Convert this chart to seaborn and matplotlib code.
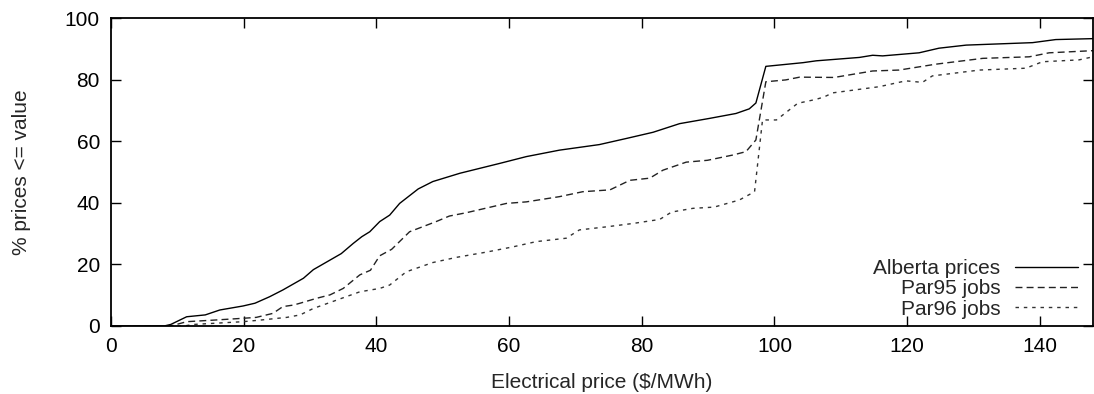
import matplotlib
matplotlib.use("Agg")
import matplotlib.pyplot as plt
import seaborn as sns
import pandas as pd

alberta_x = [0, 8, 9, 11.4, 14.2, 16.4, 19.9, 21.7, 23.9, 25.9, 29, 30.5, 34.7, 36.5, 37.8, 39, 40.5, 42, 43.5,
             46.3, 48.5, 52.6, 58.6, 62.6, 67.6, 73.6, 77.7, 81.7, 85.7, 90.2, 94.2, 96.2, 97.2, 98.7, 104.3,
             106.3, 112.8, 114.8, 116.3, 121.8, 124.8, 128.9, 138.9, 142.4, 148]
alberta_y = [0, 0, 0.5, 3.0, 3.6, 5.2, 6.5, 7.4, 9.5, 11.7, 15.5, 18.3, 23.5, 26.8, 29, 30.6, 33.9, 36, 39.8,
             44.5, 46.9, 49.6, 52.8, 55, 57.1, 58.9, 60.9, 62.9, 65.7, 67.4, 69, 70.5, 72.4, 84.3, 85.5,
             86.1, 87.2, 87.9, 87.7, 88.7, 90.2, 91.2, 92, 93, 93.3]

par95_x = [0, 9, 11.4, 15.4, 19.9, 21.9, 24.4, 25.9, 27.5, 28.5, 31, 33, 35, 37.5, 39.1, 40.5, 42.3, 45, 49, 51,
           53.6, 59.6, 62.6, 67.6, 71.1, 75.2, 78.2, 81.2, 83.2, 86.7, 89.9, 93.7, 95.7, 97.2, 98.7, 101.7,
           103.8, 109, 114.8, 118.8, 124.3, 131.4, 138.4, 141.4, 148]
par95_y = [0, 0, 1.4, 1.9, 2.5, 2.8, 4.1, 6.3, 6.8, 7.4, 9, 10.1, 12.2, 16.6, 18.1, 22.8, 24.9, 30.6, 33.9, 35.7,
           36.8, 39.8, 40.3, 42, 43.6, 44.2, 47.3, 48, 50.6, 53.2, 53.8, 55.5, 56.6, 60.4, 79.3, 79.9,
           80.8, 80.7, 82.8, 83.1, 85, 86.9, 87.4, 88.7, 89.4]

par96_x = [0, 11, 12.4, 19.9, 22.4, 26.5, 28.5, 30.5, 34, 37.5, 40.5, 42, 44.5, 48.5, 52.1, 56.6, 60.6, 64.1,
           68.6, 70.6, 74.7, 78.7, 82.7, 84.5, 87.7, 90.9, 94.7, 97, 98.2, 100.3, 103.5, 106.3, 107.5, 108.8,
           115.8, 119.8, 122.3, 123.8, 130.9, 137.9, 140.4, 145.9, 148]
par96_y = [0, 0, 0.5, 1.4, 1.9, 2.8, 3.6, 5.7, 8.4, 11.1, 12.2, 13.3, 17.6, 20.6, 22.3, 24, 25.7, 27.4,
           28.5, 31.2, 32.2, 33.3, 34.6, 37, 38.2, 38.6, 40.9, 43.6, 66.9, 66.9, 72.3, 73.6, 74.4, 75.7,
           77.7, 79.6, 79.1, 81.2, 83.1, 83.7, 85.8, 86.4, 87.4]

series_names = ["Alberta prices", "Par95 jobs", "Par96 jobs"]
x_ticks = [0, 20, 40, 60, 80, 100, 120, 140]
y_ticks = [0, 20, 40, 60, 80, 100]

frames = []
for name, xs, ys in zip(series_names, [alberta_x, par95_x, par96_x], [alberta_y, par95_y, par96_y]):
    frames.append(pd.DataFrame({"price": xs, "pct": ys, "series": name}))
df = pd.concat(frames, ignore_index=True)

sns.set_style("ticks")
plt.rcParams["font.family"] = ["Liberation Sans", "DejaVu Sans"]

fig = plt.figure(figsize=(10.94, 3.94), dpi=100)
ax = fig.add_axes([0.1015, 0.1726, 0.8975, 0.7817])

dashes = {"Alberta prices": "", "Par95 jobs": (5, 3), "Par96 jobs": (2.5, 3.5)}
sns.lineplot(data=df, x="price", y="pct", hue="series", style="series",
             palette=["black", "#222222", "#333333"], dashes=dashes, linewidth=1.0,
             estimator=None, sort=False, ax=ax, legend=True)

ax.set_xlim(0, 148)
ax.set_ylim(0, 100)
ax.set_xticks(x_ticks)
ax.set_yticks(y_ticks)
ax.tick_params(direction="in", top=True, right=True, length=7, width=1.0, labelsize=15, pad=8, colors="black")
for s in ax.spines.values():
    s.set_linewidth(1.3)
    s.set_color("black")
ax.set_xlabel("Electrical price ($/MWh)", fontsize=15, labelpad=12)
ax.set_ylabel("% prices <= value", fontsize=15, labelpad=24)

handles, labels = ax.get_legend_handles_labels()
leg = ax.legend(handles, labels, loc="lower right", bbox_to_anchor=(0.993, -0.003), frameon=False,
                markerfirst=False, fontsize=15, handlelength=3.0, handletextpad=0.7,
                labelspacing=0.06, borderaxespad=0.0)

fig.savefig("out.png", dpi=100)
